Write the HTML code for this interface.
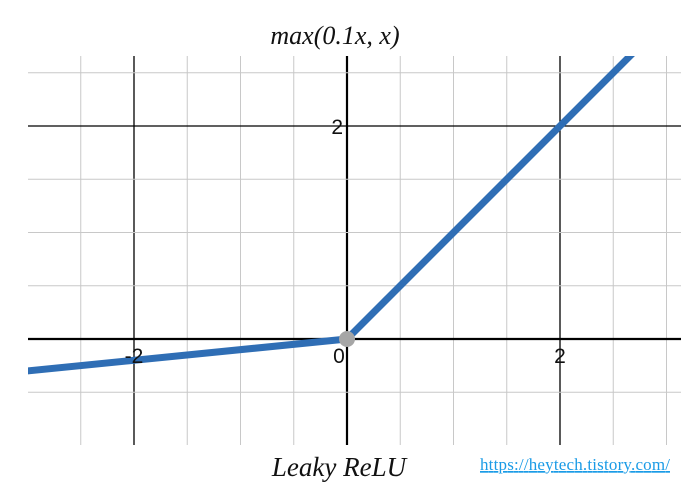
<!DOCTYPE html>
<html><head><meta charset="utf-8"><style>
html,body{margin:0;padding:0;background:#fff;width:691px;height:492px;overflow:hidden}
</style></head><body>
<svg id="chart" width="691" height="492" xmlns="http://www.w3.org/2000/svg">
<defs><clipPath id="clip"><rect x="28" y="56" width="653" height="389"/></clipPath></defs>
<text x="335" y="44" text-anchor="middle" font-family="Liberation Serif, serif" font-style="italic" font-size="26" fill="#111">max(0.1x, x)</text>
<g id="grid" clip-path="url(#clip)"></g>
<g id="series" clip-path="url(#clip)"></g>
<g id="labels"></g>
<text x="339" y="476" text-anchor="middle" font-family="Liberation Serif, serif" font-style="italic" font-size="27" fill="#111">Leaky ReLU</text>
<text x="480" y="470" textLength="190" font-family="Liberation Serif, serif" font-size="17" fill="#1a9be6" text-decoration="underline">https://heytech.tistory.com/</text>
</svg>
<script>
const xTicks=[-2,0,2];
const yTicks=[2];
const curveX=[-3.1,0,3];
const alpha=[0.1];
const NS='http://www.w3.org/2000/svg';
const x0=347,y0=339,u=106.5;
function sx(v){return x0+v*u}
function sy(v){return y0-v*u}
const grid=document.getElementById('grid'),ser=document.getElementById('series'),lab=document.getElementById('labels');
function mk(tag,attrs,parent){const e=document.createElementNS(NS,tag);for(const k in attrs)e.setAttribute(k,attrs[k]);parent.appendChild(e);return e;}
for(let i=-6;i<=7;i++){const v=i*0.5;const major=(i%4===0);
 const l=mk('line',{x1:sx(v),x2:sx(v),y1:56,y2:445,stroke:major?'#000':'#c8c8c8','stroke-width':v===0?2.2:(major?1.3:1)},grid);
 
 }
for(let i=-3;i<=6;i++){const v=i*0.5;const major=(i%4===0);
 const l=mk('line',{x1:28,x2:681,y1:sy(v),y2:sy(v),stroke:major?'#000':'#c8c8c8','stroke-width':v===0?2.2:(major?1.3:1)},grid);
 
 }
xTicks.forEach(t=>{const e=mk('text',{x:sx(t)+(t===0?-8:0),y:y0+24,'text-anchor':'middle','font-family':'Liberation Sans, sans-serif','font-size':21,fill:'#111'},lab);e.textContent=t;
 
 });
yTicks.forEach(t=>{const e=mk('text',{x:x0-4,y:sy(t)+8,'text-anchor':'end','font-family':'Liberation Sans, sans-serif','font-size':21,fill:'#111'},lab);e.textContent=t;
 
 });
const f=x=>Math.max(alpha[0]*x,x);
const pts=curveX.map(x=>sx(x)+','+sy(f(x))).join(' ');
const pl=mk('polyline',{points:pts,fill:'none',stroke:'#2f6eb5','stroke-width':7,'stroke-linejoin':'round'},ser);


const c=mk('circle',{cx:sx(0),cy:sy(0),r:8,fill:'#a6a6a6'},document.getElementById('chart'));


</script>
</body></html>
